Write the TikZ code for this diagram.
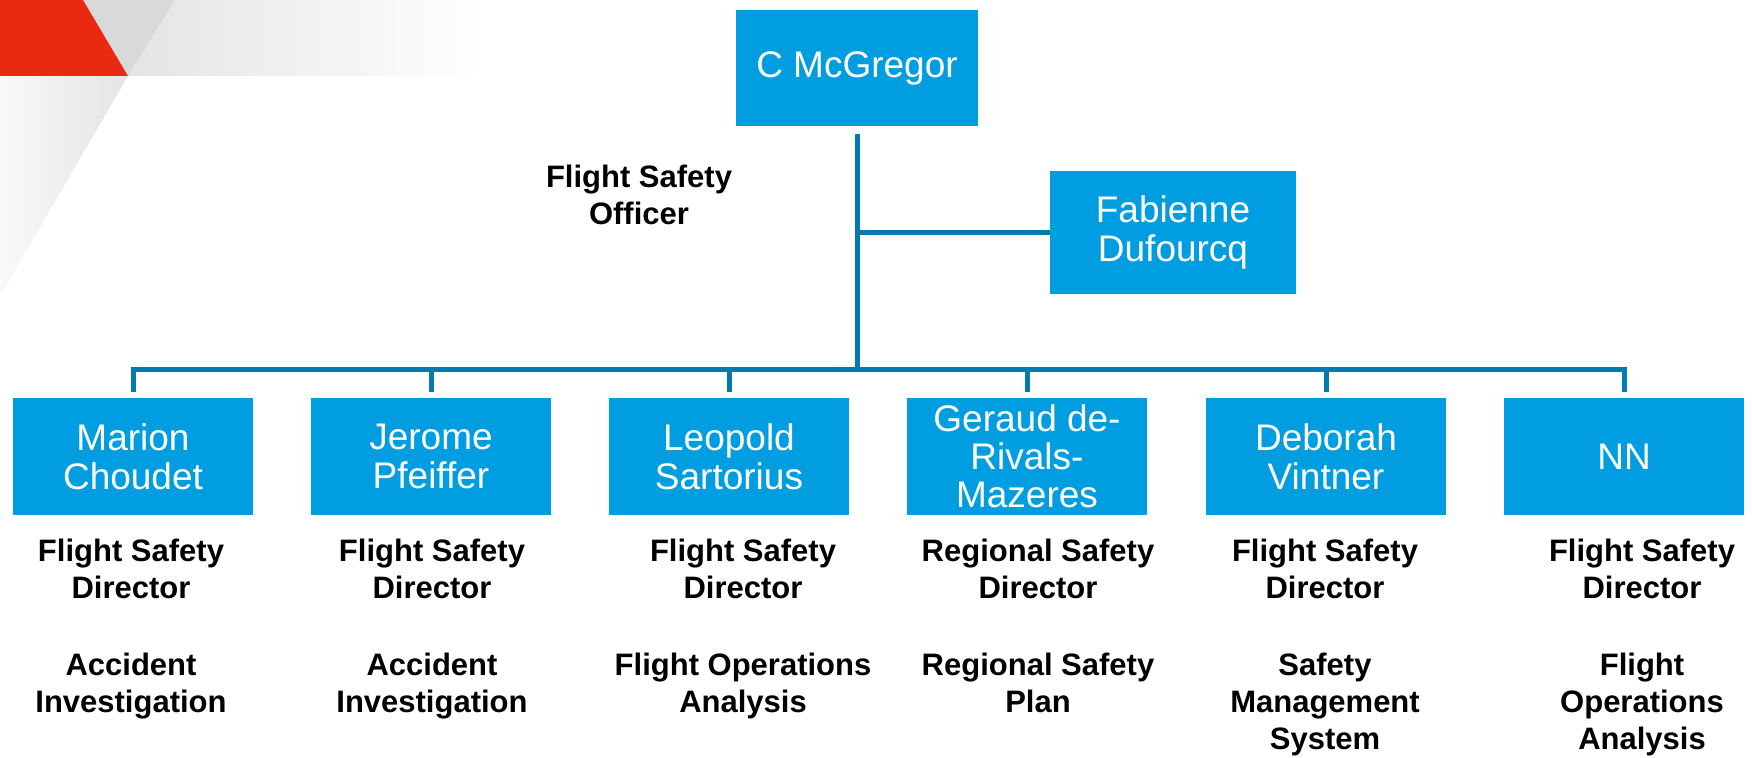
\documentclass[tikz,border=0pt]{standalone}
\usepackage{fontspec}
\setmainfont{Liberation Sans}
\definecolor{boxblue}{RGB}{0,158,224}
\definecolor{lineblue}{RGB}{0,122,176}
\definecolor{redc}{RGB}{234,41,17}
\definecolor{grayA}{RGB}{217,217,217}
\definecolor{grayB}{RGB}{228,228,228}
\definecolor{grayC}{RGB}{249,249,249}
\begin{document}
\begin{tikzpicture}[x=1pt,y=-1pt,
  person/.style={fill=boxblue, text=white, inner sep=0pt, align=center,
    font=\fontsize{37}{39}\selectfont},
  lower/.style={person, minimum width=240pt, minimum height=117pt},
  role/.style={anchor=north, inner sep=0pt, align=center,
    font=\bfseries\fontsize{31}{37}\selectfont},
  conn/.style={draw=lineblue, line width=5pt}]
\useasboundingbox (0,0) rectangle (1752,757);
% corner decoration
\shade[left color=grayC, right color=grayB] (0,76) -- (128,76) -- (0,296) -- cycle;
\shade[left color=grayB, right color=white] (175,0) -- (483,0) -- (483,76) -- (128,76) -- cycle;
\fill[grayA] (83,0) -- (175,0) -- (128,76) -- cycle;
\fill[redc] (0,0) -- (83,0) -- (128,76) -- (0,76) -- cycle;
% people
\node[person, minimum width=242pt, minimum height=116pt] (ceo) at (857,68) {C McGregor};
\node[person, minimum width=246pt, minimum height=123pt] (fab) at (1173,232.5) {Fabienne\\Dufourcq};
\node[role, anchor=center] (officer) at (639,195) {Flight Safety\\Officer};
\node[lower] (b1) at (133,456.5) {Marion\\Choudet};
\node[lower] (b2) at (431,456.5) {Jerome\\Pfeiffer};
\node[lower] (b3) at (729,456.5) {Leopold\\Sartorius};
\node[lower, font=\fontsize{37}{38}\selectfont] (b4) at (1027,456.5) {Geraud de-\\Rivals-\\Mazeres};
\node[lower] (b5) at (1326,456.5) {Deborah\\Vintner};
\node[lower] (b6) at (1624,456.5) {NN};
% roles
\node[role] (r1) at (131,539) {Flight Safety\\Director};
\node[role] (r2) at (432,539) {Flight Safety\\Director};
\node[role] (r3) at (743,539) {Flight Safety\\Director};
\node[role] (r4) at (1038,539) {Regional Safety\\Director};
\node[role] (r5) at (1325,539) {Flight Safety\\Director};
\node[role] (r6) at (1642,539) {Flight Safety\\Director};
\node[role] (a1) at (131,653) {Accident\\Investigation};
\node[role] (a2) at (432,653) {Accident\\Investigation};
\node[role] (a3) at (743,653) {Flight Operations\\Analysis};
\node[role] (a4) at (1038,653) {Regional Safety\\Plan};
\node[role] (a5) at (1325,653) {Safety\\Management\\System};
\node[role] (a6) at (1642,653) {Flight\\Operations\\Analysis};
% connectors
\coordinate (bus) at (0,369);
\draw[conn] ([yshift=-8pt]ceo.south) -- (ceo.south |- bus);
\draw[conn] (ceo.south |- fab.west) -- (fab.west);
\draw[conn] ([yshift=6pt]b1.north) -- (b1.north |- bus) -- (b6.north |- bus) -- ([yshift=6pt]b6.north);
\draw[conn] (b2.north |- bus) -- ([yshift=6pt]b2.north);
\draw[conn] (b3.north |- bus) -- ([yshift=6pt]b3.north);
\draw[conn] (b4.north |- bus) -- ([yshift=6pt]b4.north);
\draw[conn] (b5.north |- bus) -- ([yshift=6pt]b5.north);
\end{tikzpicture}
\end{document}
